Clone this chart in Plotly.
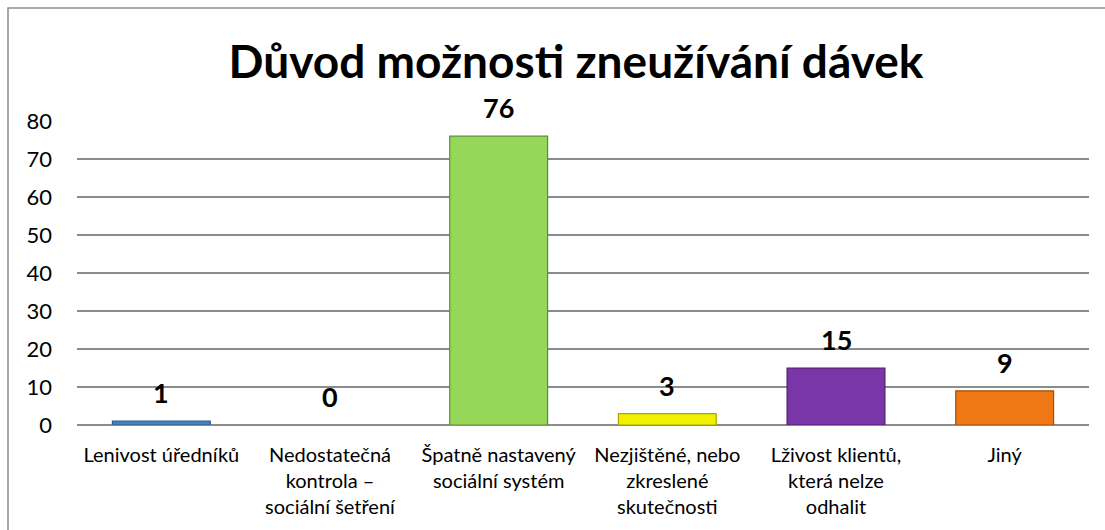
import plotly.graph_objects as go

# Survey answers: reasons why social benefits can be abused
categories = [
    "Lenivost úředníků",
    "Nedostatečná<br>kontrola –<br>sociální šetření",
    "Špatně nastavený<br>sociální systém",
    "Nezjištěné, nebo<br>zkreslené<br>skutečnosti",
    "Lživost klientů,<br>která nelze<br>odhalit",
    "Jiný",
]
counts = [1, 0, 76, 3, 15, 9]
bar_colors = ["#4a7ebb", "#9bbb59", "#96d75a", "#f0f000", "#7a36a6", "#f07814"]
edge_colors = ["#2c5d96", "#71893f", "#5e8f2e", "#a8a800", "#4f1f6e", "#a44e0a"]
y_ticks = [0, 10, 20, 30, 40, 50, 60, 70, 80]

W, H = 1105, 530
L, R, T, B = 77, 16, 121, 105
plot_w = W - L - R
plot_h = H - T - B

FONT = "Lato"

# zero-height bars get no outline
outline = [c if v > 0 else "rgba(0,0,0,0)" for c, v in zip(edge_colors, counts)]

fig = go.Figure()

fig.add_trace(go.Bar(
    x=categories, y=counts,
    marker=dict(color=bar_colors, line=dict(color=outline, width=1.2)),
    width=0.58,
    showlegend=False,
))

# value labels above the bars
for cat, v in zip(categories, counts):
    fig.add_annotation(
        x=cat, y=v, text=f"<b>{v}</b>", showarrow=False,
        yanchor="bottom", yshift=10,
        font=dict(family=FONT, size=27, color="#000000"),
    )

# outer chart frame
fig.add_shape(
    type="rect", xref="paper", yref="paper",
    x0=(8 - L) / plot_w, x1=(W + 10 - L) / plot_w,
    y0=(H - B - (H + 10)) / plot_h, y1=(H - B - 8) / plot_h,
    line=dict(color="#8c8c8c", width=1.5), fillcolor="rgba(0,0,0,0)",
    layer="below",
)

fig.update_layout(
    width=W, height=H,
    margin=dict(l=L, r=R, t=T, b=B),
    paper_bgcolor="#ffffff", plot_bgcolor="#ffffff",
    title=dict(
        text="<b>Důvod možnosti zneužívání dávek</b>",
        x=576 / W, xanchor="center", y=1 - 62 / H, yanchor="middle",
        font=dict(family=FONT, size=46, color="#000000"),
    ),
    xaxis=dict(
        type="category", showgrid=False, showline=False, ticks="",
        tickfont=dict(family=FONT, size=20, color="#000000"),
        ticklabelstandoff=16,
    ),
    yaxis=dict(
        range=[0, 80], tickvals=y_ticks,
        showgrid=True, gridcolor="#8c8c8c", gridwidth=1.5,
        zeroline=True, zerolinecolor="#8c8c8c", zerolinewidth=1.5,
        showline=False, ticks="",
        tickfont=dict(family=FONT, size=22, color="#000000"),
        ticklabelstandoff=24,
    ),
)

fig.write_html("out.html")
